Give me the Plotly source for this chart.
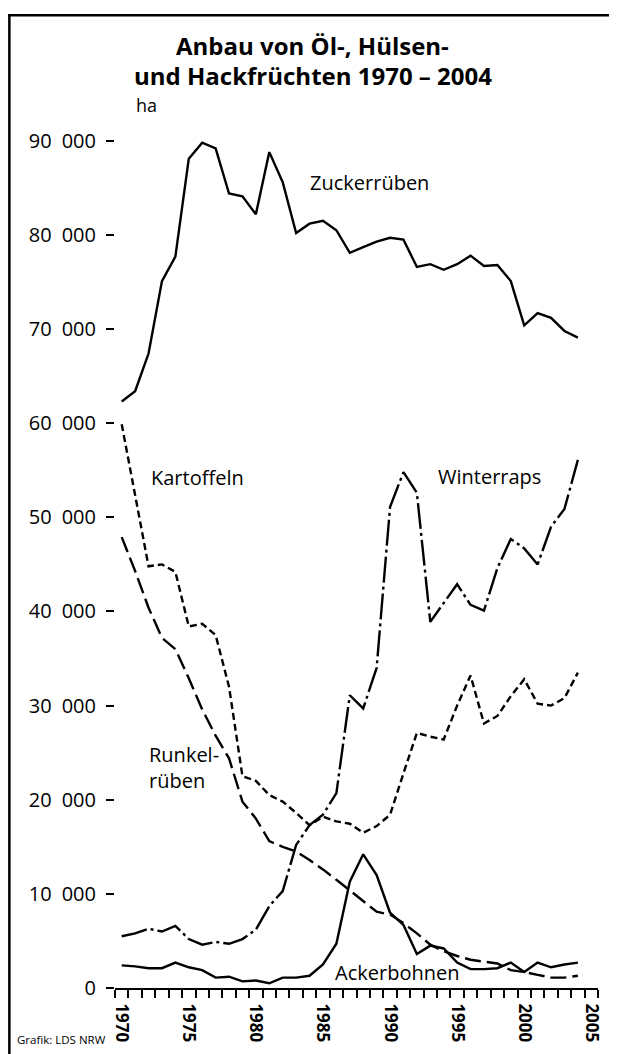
import plotly.graph_objects as go

# ---------------- data ----------------
years = list(range(1970, 2005))

zuckerrueben = [62300, 63400, 67400, 75100, 77700, 88100, 89800, 89200, 84400, 84100,
                82200, 88800, 85600, 80200, 81200, 81500, 80500, 78100, 78700, 79300,
                79700, 79500, 76600, 76900, 76300, 76900, 77800, 76700, 76800, 75100,
                70400, 71700, 71200, 69800, 69100]

kartoffeln = [59900, 52500, 44800, 45000, 44200, 38400, 38700, 37500, 32000, 22500,
              22000, 20500, 19800, 18600, 17300, 18200, 17700, 17450, 16500, 17200,
              18400, 22800, 27100, 26700, 26400, 30000, 33200, 28100, 28900, 31000,
              32800, 30200, 30000, 30800, 33500]

runkelrueben = [47900, 44300, 40400, 37200, 36000, 32900, 29600, 26800, 24400, 19800,
                18000, 15600, 15000, 14500, 13600, 12600, 11500, 10400, 9300, 8100,
                7800, 6900, 5800, 4600, 3900, 3400, 3000, 2800, 2600, 1900,
                1700, 1400, 1100, 1100, 1300]

winterraps = [5500, 5800, 6300, 6000, 6600, 5200, 4600, 4900, 4700, 5200,
              6200, 8700, 10300, 15200, 17300, 18400, 20700, 31100, 29700, 34000,
              51100, 54800, 52600, 38900, 40900, 42900, 40700, 40100, 44600, 47700,
              46700, 45000, 49000, 50900, 56100]

ackerbohnen = [2400, 2300, 2100, 2100, 2700, 2200, 1900, 1100, 1200, 700,
               800, 500, 1100, 1100, 1300, 2500, 4700, 11300, 14200, 12000,
               8000, 6700, 3600, 4500, 4200, 2700, 2000, 2000, 2100, 2700,
               1700, 2700, 2200, 2500, 2700]

x_tick_years = [1970, 1975, 1980, 1985, 1990, 1995, 2000, 2005]
y_tick_vals = [0, 10000, 20000, 30000, 40000, 50000, 60000, 70000, 80000, 90000]
SEP = "\u2002"
y_tick_text = ["0"] + [f"{v // 1000}{SEP}000" for v in y_tick_vals[1:]]

title_lines = ["Anbau von Öl-, Hülsen-", "und Hackfrüchten 1970 – 2004"]
unit_label = "ha"
source_label = "Grafik: LDS NRW"

# ---------------- layout geometry ----------------
# page has an 8px body margin: the figure starts at page (8, 8)
OFF = 8
W, H = 617 - OFF, 1054 - OFF
ML, MR, MT, MB = 115 - OFF, 18.7, 121.9 - OFF, 65.7
PW, PH = W - ML - MR, H - MT - MB
FONT = "Open Sans"


def px_x(x):  # page pixel -> paper
    return (x - OFF - ML) / PW


def px_y(y):
    return (H - MB - (y - OFF)) / PH


fig = go.Figure()

styles = [
    ("Zuckerrüben", zuckerrueben, "solid"),
    ("Kartoffeln", kartoffeln, "7px,4px"),
    ("Runkelrüben", runkelrueben, "16px,6px"),
    ("Winterraps", winterraps, "26px,4px,3px,4px"),
    ("Ackerbohnen", ackerbohnen, "solid"),
]
for name, vals, dash in styles:
    fig.add_trace(go.Scatter(
        x=years, y=vals, name=name, mode="lines",
        line=dict(color="black", width=2.4, dash=dash),
        hoverinfo="skip", showlegend=False,
    ))

annotations = []
series_labels = [
    ("Zuckerrüben", 370, 182, "center"),
    ("Kartoffeln", 198, 478, "center"),
    ("Winterraps", 490, 477, "center"),
    ("Runkel-<br>rüben", 147, 768, "left"),
    ("Ackerbohnen", 397, 973, "center"),
]
for txt, x, y, anc in series_labels:
    annotations.append(dict(text=txt, x=px_x(x), y=px_y(y), xref="paper", yref="paper",
                            xanchor=anc, yanchor="middle", showarrow=False, align="left",
                            font=dict(family=FONT, size=20, color="black")))

annotations.append(dict(text=title_lines[0], x=px_x(313), y=px_y(45), xref="paper", yref="paper",
                        xanchor="center", yanchor="middle", showarrow=False,
                        font=dict(family=FONT, size=24, color="black", weight="bold")))
annotations.append(dict(text=title_lines[1], x=px_x(313), y=px_y(75), xref="paper", yref="paper",
                        xanchor="center", yanchor="middle", showarrow=False,
                        font=dict(family=FONT, size=24, color="black", weight="bold")))
annotations.append(dict(text=unit_label, x=px_x(147), y=px_y(105), xref="paper", yref="paper",
                        xanchor="center", yanchor="middle", showarrow=False,
                        font=dict(family=FONT, size=18, color="black")))
annotations.append(dict(text=source_label, x=px_x(15), y=px_y(1040), xref="paper", yref="paper",
                        xanchor="left", yanchor="middle", showarrow=False,
                        font=dict(family=FONT, size=11.5, color="black")))

shapes = [
    dict(type="line", xref="paper", yref="paper", x0=px_x(9.3), x1=px_x(9.3),
         y0=px_y(14), y1=px_y(1070), line=dict(color="black", width=2.5)),
    dict(type="line", xref="paper", yref="paper", x0=px_x(8), x1=px_x(640),
         y0=px_y(15), y1=px_y(15), line=dict(color="black", width=2.5)),
]

fig.update_layout(
    width=W, height=H,
    margin=dict(l=ML, r=MR, t=MT, b=MB, pad=0, autoexpand=False),
    paper_bgcolor="white", plot_bgcolor="white",
    font=dict(family=FONT, color="black"),
    annotations=annotations, shapes=shapes,
    xaxis=dict(
        range=[1969.5, 2005.5], showgrid=False, zeroline=False, automargin=False,
        showline=True, linecolor="black", linewidth=2,
        tickvals=x_tick_years, ticktext=[str(v) for v in x_tick_years],
        tickangle=90, ticks="outside", ticklen=0, tickcolor="black",
        ticklabelstandoff=10,
        tickfont=dict(family=FONT, size=17, color="black", weight="bold"),
        minor=dict(ticks="outside", ticklen=8, tickwidth=1.5, tickcolor="black",
                   tick0=1969.5, dtick=1, showgrid=False),
    ),
    yaxis=dict(
        range=[0, 92000], showgrid=False, zeroline=False, showline=False, automargin=False,
        tickvals=y_tick_vals, ticktext=y_tick_text,
        ticks="outside", ticklen=8, tickwidth=1.5, tickcolor="black",
        ticklabelstandoff=6,
        tickfont=dict(family=FONT, size=20, color="black"),
    ),
)

fig.write_html("out.html")
